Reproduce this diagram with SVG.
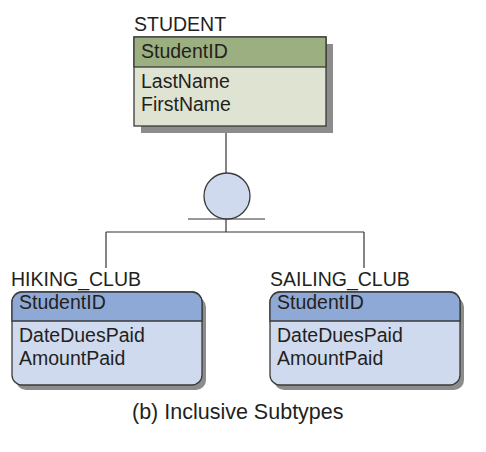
<svg xmlns="http://www.w3.org/2000/svg" width="486" height="452" viewBox="0 0 486 452">
<style>
text{font-family:"Liberation Sans",Arial,sans-serif;font-size:19.5px;fill:#231f20}
.ln{stroke:#333;stroke-width:1.2;fill:none}
.shadow{fill:#8c8c8c}
.bd{stroke:#3a3a3a;stroke-width:1.3}
</style>
<rect width="486" height="452" fill="#fff"/>
<g id="connectors">
<line class="ln" x1="226" y1="126" x2="226" y2="173"/>
<line class="ln" x1="188" y1="219" x2="265" y2="219"/>
<line class="ln" x1="226" y1="219" x2="226" y2="232"/>
<line class="ln" x1="106" y1="232" x2="364" y2="232"/>
<line class="ln" x1="106" y1="232" x2="106" y2="268"/>
<line class="ln" x1="364" y1="232" x2="364" y2="268"/>
</g>
<g id="subtype-circle">
<circle cx="227" cy="196" r="23" fill="#cfdaee" stroke="#3a3a3a" stroke-width="1.3"/>
</g>
<g id="student">
<text x="134" y="31">STUDENT</text>
<rect class="shadow" x="141" y="44" width="192" height="89"/>
<rect x="134" y="37" width="192" height="89" fill="#dfe4d2" class="bd"/>
<rect x="134" y="37" width="192" height="30" fill="#9caf80" class="bd"/>
<text x="141" y="58">StudentID</text>
<text x="141" y="88">LastName</text>
<text x="141" y="111">FirstName</text>
</g>
<g id="hiking_club">
<text x="11" y="286">HIKING_CLUB</text>
<rect class="shadow" x="16" y="297" width="190" height="93" rx="10"/>
<rect x="12" y="292" width="190" height="93" rx="10" fill="#cfdaee" class="bd"/>
<path d="M12 321 V302 A10 10 0 0 1 22 292 H192 A10 10 0 0 1 202 302 V321 Z" fill="#8fa9d6" class="bd"/>
<text x="19" y="309">StudentID</text>
<text x="19" y="342">DateDuesPaid</text>
<text x="19" y="365">AmountPaid</text>
</g>
<g id="sailing_club">
<text x="270" y="286">SAILING_CLUB</text>
<rect class="shadow" x="274" y="297" width="190" height="93" rx="10"/>
<rect x="270" y="292" width="190" height="93" rx="10" fill="#cfdaee" class="bd"/>
<path d="M270 321 V302 A10 10 0 0 1 280 292 H450 A10 10 0 0 1 460 302 V321 Z" fill="#8fa9d6" class="bd"/>
<text x="277" y="309">StudentID</text>
<text x="277" y="342">DateDuesPaid</text>
<text x="277" y="365">AmountPaid</text>
</g>
<text x="132" y="419" style="font-size:21.5px">(b) Inclusive Subtypes</text>
</svg>
